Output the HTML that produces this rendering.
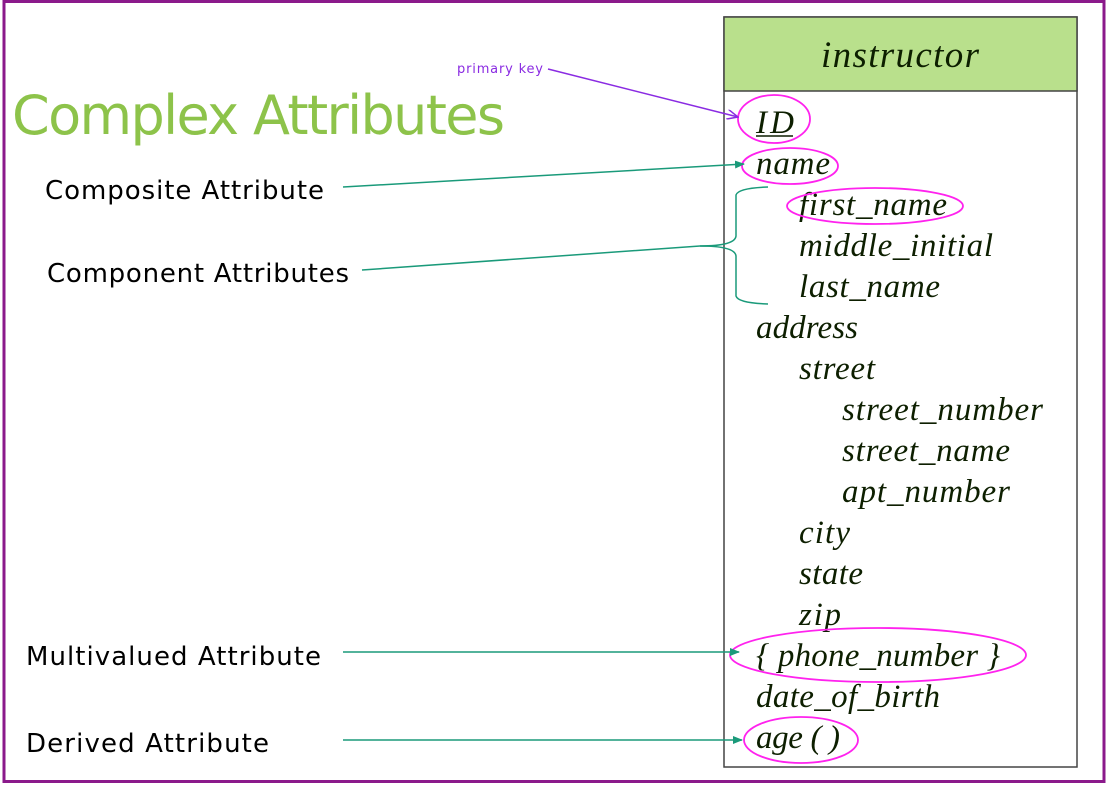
<!DOCTYPE html>
<html><head><meta charset="utf-8"><style>
body{margin:0;background:#fff;}
svg{display:block}
.a{font-family:"Liberation Serif",serif;font-style:italic;font-size:33px;fill:#0d1f00}
.l{font-family:"DejaVu Sans","Liberation Sans",sans-serif;font-size:26px;fill:#000}
</style></head><body>
<svg width="1108" height="785" viewBox="0 0 1108 785" xmlns="http://www.w3.org/2000/svg">
<defs>
<marker id="t" markerWidth="10" markerHeight="8" refX="9" refY="4" orient="auto" markerUnits="userSpaceOnUse"><path d="M0,0 L10,4 L0,8 z" fill="#1a9a7a"/></marker>
<marker id="p" markerWidth="12" markerHeight="10" refX="11" refY="5" orient="auto" markerUnits="userSpaceOnUse"><path d="M0,0 L11,5 L0,10" fill="none" stroke="#8a2be2" stroke-width="1.5"/></marker>
</defs>
<rect x="4" y="1.5" width="1100" height="780" fill="none" stroke="#8b1a8b" stroke-width="3"/>
<rect x="724" y="17" width="353" height="750" fill="#fff" stroke="#444" stroke-width="1.5"/>
<rect x="724" y="17" width="353" height="74" fill="#b9e08c" stroke="#444" stroke-width="1.5"/>
<text x="900" y="67" text-anchor="middle" class="a" style="font-size:37px" textLength="158">instructor</text>
<text x="12" y="134" style="font-family:'DejaVu Sans','Liberation Sans',sans-serif;font-size:54px;fill:#8dc34a" textLength="493">Complex Attributes</text>
<text x="457" y="73" style="font-family:'DejaVu Sans',sans-serif;font-size:13px;fill:#8a2be2" textLength="86">primary key</text>
<text x="45" y="199" class="l" textLength="279">Composite Attribute</text>
<text x="47" y="282" class="l" textLength="302">Component Attributes</text>
<text x="26" y="665" class="l" textLength="295">Multivalued Attribute</text>
<text x="26" y="752" class="l" textLength="243">Derived Attribute</text>
<text x="756" y="133" class="a" textLength="38">ID</text>
<line x1="756" y1="136" x2="793" y2="136" stroke="#0d1f00" stroke-width="1.5"/>
<text x="756" y="174" class="a" textLength="74">name</text>
<text x="799" y="215" class="a" textLength="148">first_name</text>
<text x="799" y="256" class="a" textLength="194">middle_initial</text>
<text x="799" y="297" class="a" textLength="141">last_name</text>
<text x="756" y="338" class="a" textLength="102">address</text>
<text x="799" y="379" class="a" textLength="76">street</text>
<text x="842" y="420" class="a" textLength="201">street_number</text>
<text x="842" y="461" class="a" textLength="168">street_name</text>
<text x="842" y="502" class="a" textLength="168">apt_number</text>
<text x="799" y="543" class="a" textLength="51">city</text>
<text x="799" y="584" class="a" textLength="64">state</text>
<text x="799" y="625" class="a" textLength="42">zip</text>
<text x="756" y="666" class="a" textLength="244">{ phone_number }</text>
<text x="756" y="707" class="a" textLength="184">date_of_birth</text>
<text x="756" y="748" class="a" textLength="84">age ( )</text>
<g fill="none" stroke="#ff22ee" stroke-width="1.8">
<ellipse cx="774" cy="119" rx="36" ry="24"/>
<ellipse cx="790" cy="166" rx="48" ry="18"/>
<ellipse cx="875" cy="206" rx="88" ry="18"/>
<ellipse cx="878" cy="655" rx="148" ry="27"/>
<ellipse cx="801" cy="740" rx="57" ry="23"/>
</g>
<g fill="none" stroke="#1a9a7a" stroke-width="1.5">
<line x1="343" y1="187" x2="744" y2="164" marker-end="url(#t)"/>
<line x1="343" y1="652" x2="739" y2="652" marker-end="url(#t)"/>
<line x1="343" y1="740" x2="742" y2="740" marker-end="url(#t)"/>
<path d="M362,270 L700,246 Q735,246 736,236 L736,195 Q738,188 768,187"/>
<path d="M700,246 Q735,246 736,256 L736,296 Q738,303 768,304"/>
</g>
<line x1="548" y1="69" x2="738" y2="117" stroke="#8a2be2" stroke-width="1.5" marker-end="url(#p)"/>
</svg>
</body></html>
